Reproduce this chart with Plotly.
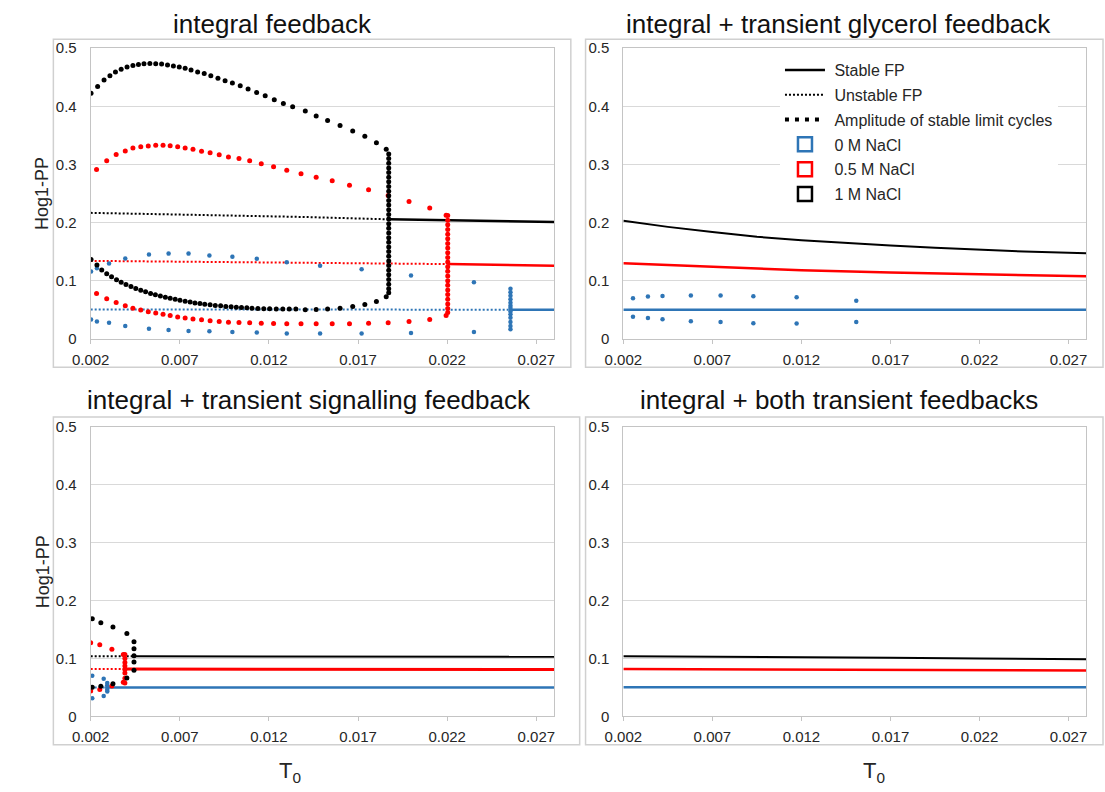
import plotly.graph_objects as go

FONT = "Liberation Sans, Arial, sans-serif"
BLUE = "#2e75b6"
RED = "#ff0000"
BLACK = "#000000"
GRID = "#d9d9d9"
FRAME = "#c4c4c4"
TEXT = "#262626"

FIG_W, FIG_H = 1105, 792

# ---------------------------------------------------------------- axes / text
X_RANGE = [0.002, 0.028]
Y_RANGE = [0.0, 0.5]
X_TICKS = [0.002, 0.007, 0.012, 0.017, 0.022, 0.027]
X_TICK_TEXT = ["0.002", "0.007", "0.012", "0.017", "0.022", "0.027"]
Y_TICKS = [0.0, 0.1, 0.2, 0.3, 0.4, 0.5]
Y_TICK_TEXT = ["0", "0.1", "0.2", "0.3", "0.4", "0.5"]

PANEL_TITLES = [
    "integral feedback",
    "integral + transient glycerol feedback",
    "integral + transient signalling feedback",
    "integral + both transient feedbacks",
]
Y_TITLE = "Hog1-PP"
X_TITLE = "T<sub>0</sub>"
LEGEND_LABELS = ["Stable FP", "Unstable FP", "Amplitude of stable limit cycles",
                 "0 M NaCl", "0.5 M NaCl", "1 M NaCl"]

# ------------------------------------------------- panel 1: integral feedback
IF_K_STABLE_X = [0.01872, 0.022, 0.025, 0.028]
IF_K_STABLE_Y = [0.2055, 0.2035, 0.2022, 0.2008]
IF_K_UNSTABLE_X = [0.002, 0.006, 0.010, 0.014, 0.01872]
IF_K_UNSTABLE_Y = [0.2166, 0.2145, 0.2120, 0.2095, 0.2055]
IF_K_LC_UP_X = [0.00202, 0.00239, 0.00275, 0.00308, 0.00339, 0.00371, 0.00404, 0.00437,
                0.00468, 0.00499, 0.00532, 0.00565, 0.00598, 0.00631, 0.00664, 0.00697,
                0.00730, 0.00763, 0.00800, 0.00837, 0.00874, 0.00914, 0.00954, 0.00995,
                0.01039, 0.01083, 0.01131, 0.01179, 0.01230, 0.01281, 0.01333, 0.01404,
                0.01465, 0.01529, 0.01599, 0.01670, 0.01738, 0.01803, 0.01858]
IF_K_LC_UP_Y = [0.4226, 0.4338, 0.4450, 0.4523, 0.4590, 0.4635, 0.4675, 0.4703,
                0.4720, 0.4730, 0.4736, 0.4730, 0.4726, 0.4709, 0.4692, 0.4675,
                0.4652, 0.4624, 0.4590, 0.4562, 0.4523, 0.4484, 0.4440, 0.4400,
                0.4355, 0.4298, 0.4237, 0.4180, 0.4113, 0.4046, 0.3990, 0.3917,
                0.3833, 0.3754, 0.3670, 0.3574, 0.3485, 0.3372, 0.3261]
IF_K_LC_LO_X = [0.00202, 0.00235, 0.00262, 0.00290, 0.00317, 0.00345, 0.00371, 0.00398,
                0.00426, 0.00453, 0.00481, 0.00508, 0.00536, 0.00563, 0.00591, 0.00619,
                0.00646, 0.00674, 0.00701, 0.00730, 0.00758, 0.00785, 0.00813, 0.00840,
                0.00870, 0.00899, 0.00929, 0.00958, 0.00988, 0.01017, 0.01046, 0.01076,
                0.01105, 0.01138, 0.01171, 0.01204, 0.01241, 0.01278, 0.01314, 0.01351,
                0.01404, 0.01465, 0.01529, 0.01599, 0.01670, 0.01738, 0.01803, 0.01858]
IF_K_LC_LO_Y = [0.1364, 0.1268, 0.1184, 0.1117, 0.1066, 0.1016, 0.0971, 0.0932,
                0.0898, 0.0864, 0.0836, 0.0808, 0.0780, 0.0758, 0.0735, 0.0713,
                0.0696, 0.0679, 0.0662, 0.0645, 0.0634, 0.0617, 0.0606, 0.0595,
                0.0584, 0.0572, 0.0567, 0.0556, 0.0550, 0.0544, 0.0539, 0.0533,
                0.0527, 0.0522, 0.0516, 0.0516, 0.0510, 0.0510, 0.0510, 0.0510,
                0.0500, 0.0505, 0.0510, 0.0527, 0.0555, 0.0590, 0.0640, 0.0724]
IF_K_HOPF_X = 0.01872
IF_K_HOPF_Y = [0.318, 0.310, 0.302, 0.294, 0.286, 0.278, 0.270, 0.262, 0.254, 0.246,
               0.238, 0.230, 0.222, 0.214, 0.206, 0.198, 0.190, 0.182, 0.174, 0.166,
               0.158, 0.150, 0.142, 0.134, 0.126, 0.118, 0.110, 0.102, 0.094, 0.086,
               0.079]

IF_R_STABLE_X = [0.02203, 0.025, 0.028]
IF_R_STABLE_Y = [0.1285, 0.1270, 0.1257]
IF_R_UNSTABLE_X = [0.002, 0.007, 0.012, 0.017, 0.02203]
IF_R_UNSTABLE_Y = [0.1340, 0.1325, 0.1310, 0.1298, 0.1285]
IF_R_LC_X = [0.00233, 0.00290, 0.00343, 0.00394, 0.00437, 0.00481, 0.00523, 0.00565,
             0.00606, 0.00646, 0.00688, 0.00730, 0.00774, 0.00822, 0.00870, 0.00921,
             0.00973, 0.01032, 0.01092, 0.01157, 0.01226, 0.01300, 0.01380, 0.01465,
             0.01555, 0.01652, 0.01759, 0.01869, 0.01986, 0.02102, 0.02194]
IF_R_LC_UP_Y = [0.2912, 0.3064, 0.3170, 0.3232, 0.3283, 0.3305, 0.3316, 0.3328,
                0.3328, 0.3322, 0.3305, 0.3283, 0.3261, 0.3227, 0.3199, 0.3165,
                0.3126, 0.3103, 0.3064, 0.3013, 0.2960, 0.2900, 0.2840, 0.2780,
                0.2720, 0.2643, 0.2564, 0.2463, 0.2362, 0.2251, 0.2126]
IF_R_LC_LO_Y = [0.0780, 0.0690, 0.0623, 0.0567, 0.0527, 0.0493, 0.0466, 0.0443,
                0.0421, 0.0399, 0.0375, 0.0359, 0.0342, 0.0325, 0.0308, 0.0298,
                0.0286, 0.0281, 0.0274, 0.0269, 0.0264, 0.0258, 0.0258, 0.0258,
                0.0258, 0.0258, 0.0269, 0.0275, 0.0298, 0.0331, 0.0399]
IF_R_HOPF_X = 0.02203
IF_R_HOPF_Y = [0.212, 0.204, 0.196, 0.188, 0.180, 0.172, 0.164, 0.156, 0.148, 0.140,
               0.132, 0.124, 0.116, 0.108, 0.100, 0.092, 0.084, 0.076, 0.068, 0.060,
               0.052, 0.045]

IF_B_STABLE_X = [0.02555, 0.028]
IF_B_STABLE_Y = [0.0500, 0.0500]
IF_B_UNSTABLE_X = [0.002, 0.02555]
IF_B_UNSTABLE_Y = [0.0505, 0.0500]
IF_B_LC_X = [0.00202, 0.00235, 0.00303, 0.00394, 0.00527, 0.00637, 0.00749, 0.00866,
             0.00995, 0.01132, 0.01300, 0.01487, 0.01720, 0.01997, 0.02350]
IF_B_LC_UP_Y = [0.1156, 0.1212, 0.1296, 0.1380, 0.1448, 0.1465, 0.1465, 0.1431,
                0.1409, 0.1375, 0.1318, 0.1257, 0.1195, 0.1089, 0.0971]
IF_B_LC_LO_Y = [0.0331, 0.0298, 0.0275, 0.0219, 0.0174, 0.0152, 0.0135, 0.0130,
                0.0118, 0.0107, 0.0089, 0.0089, 0.0089, 0.0101, 0.0118]
IF_B_HOPF_X = 0.02555
IF_B_HOPF_Y = [0.0859, 0.0800, 0.0740, 0.0680, 0.0620, 0.0570, 0.0530, 0.0470,
               0.0420, 0.0360, 0.0290, 0.0220, 0.0165]

# ------------------------------- panel 2: integral + transient glycerol feedback
TG_K_X = [0.002, 0.0045, 0.007, 0.0095, 0.012, 0.0145, 0.017, 0.0195, 0.022, 0.0245, 0.028]
TG_K_Y = [0.203, 0.1925, 0.1835, 0.1755, 0.1695, 0.1645, 0.1605, 0.1565, 0.153, 0.150, 0.147]
TG_R_X = [0.002, 0.007, 0.012, 0.017, 0.022, 0.028]
TG_R_Y = [0.130, 0.1235, 0.118, 0.114, 0.1105, 0.1075]
TG_B_X = [0.002, 0.028]
TG_B_Y = [0.050, 0.050]
TG_B_LC_X = [0.00254, 0.00338, 0.00420, 0.00579, 0.00746, 0.00930, 0.01173, 0.01508]
TG_B_LC_UP_Y = [0.0698, 0.0726, 0.0737, 0.0743, 0.0743, 0.0732, 0.0715, 0.0654]
TG_B_LC_LO_Y = [0.0380, 0.0358, 0.0335, 0.0302, 0.0290, 0.0268, 0.0263, 0.0290]

# ----------------------------- panel 3: integral + transient signalling feedback
TS_K_STABLE_X = [0.00443, 0.015, 0.028]
TS_K_STABLE_Y = [0.104, 0.1035, 0.103]
TS_K_UNSTABLE_X = [0.002, 0.00443]
TS_K_UNSTABLE_Y = [0.104, 0.104]
TS_K_LC_X = [0.00209, 0.00257, 0.00325, 0.00403]
TS_K_LC_UP_Y = [0.1686, 0.1619, 0.1546, 0.1433]
TS_K_LC_LO_Y = [0.0506, 0.0523, 0.0563, 0.0664]
TS_K_HOPF_X = 0.00443
TS_K_HOPF_Y = [0.129, 0.117, 0.105, 0.094, 0.080]

TS_R_STABLE_X = [0.00392, 0.015, 0.028]
TS_R_STABLE_Y = [0.082, 0.0815, 0.081]
TS_R_UNSTABLE_X = [0.002, 0.00392]
TS_R_UNSTABLE_Y = [0.082, 0.082]
TS_R_LC_X = [0.00200, 0.00251, 0.00319, 0.00383]
TS_R_LC_UP_Y = [0.1271, 0.1238, 0.1159, 0.1069]
TS_R_LC_LO_Y = [0.0438, 0.0467, 0.0525, 0.0590]
TS_R_HOPF_X = 0.00392
TS_R_HOPF_Y = [0.107, 0.100, 0.093, 0.087, 0.081, 0.075, 0.066, 0.058]

TS_B_STABLE_X = [0.00293, 0.028]
TS_B_STABLE_Y = [0.050, 0.050]
TS_B_UNSTABLE_X = [0.002, 0.00293]
TS_B_UNSTABLE_Y = [0.050, 0.050]
TS_B_LC_X = [0.00209, 0.00273]
TS_B_LC_UP_Y = [0.0703, 0.0653]
TS_B_LC_LO_Y = [0.0315, 0.0354]
TS_B_HOPF_X = 0.00293
TS_B_HOPF_Y = [0.058, 0.054, 0.050, 0.046, 0.043]

# ---------------------------------- panel 4: integral + both transient feedbacks
TB_X = [0.002, 0.007, 0.012, 0.017, 0.022, 0.028]
TB_K_Y = [0.104, 0.1035, 0.1025, 0.1015, 0.100, 0.099]
TB_R_Y = [0.082, 0.0815, 0.081, 0.0805, 0.080, 0.0795]
TB_B_Y = [0.0505, 0.0505, 0.0505, 0.0505, 0.0505, 0.0505]

# ------------------------------------------------------------------ layout px
# plot areas in pixels: (left, right, top, bottom)
PLOT_PX = [(73, 545, 40, 337), (615.5, 1087, 40, 337),
           (73, 545, 427, 723), (615.5, 1087, 427, 723)]
# chart-area frames in pixels: (x0, y0, x1, y1)
FRAME_PX = [(35, 31, 562, 366), (577, 31, 1104, 366),
            (35, 417, 571, 752), (577, 417, 1104, 752)]
TITLE_PX = [(258, 15), (835, 15), (295, 400), (835, 400)]
XTITLE_PX = [(276, 780), (871, 780)]
YTITLE_X = 24
LEGEND_PX = (775, 45)


def px_x(v):
    return v / FIG_W


def px_y(v):
    return 1 - v / FIG_H


fig = go.Figure()

DOT = "2px,2px"


def line(ax, x, y, color, dash=None, width=2.5):
    fig.add_trace(go.Scatter(
        x=x, y=y, mode="lines", xaxis=f"x{ax}", yaxis=f"y{ax}",
        line=dict(color=color, width=width if dash is None else 2, dash=dash or "solid"),
        showlegend=False, hoverinfo="skip"))


def dots(ax, x, y, color, size=5):
    fig.add_trace(go.Scatter(
        x=x, y=y, mode="markers", xaxis=f"x{ax}", yaxis=f"y{ax}",
        marker=dict(color=color, size=size, line=dict(width=0)),
        showlegend=False, hoverinfo="skip"))


# panel 1
line("", IF_B_UNSTABLE_X, IF_B_UNSTABLE_Y, BLUE, DOT)
line("", IF_B_STABLE_X, IF_B_STABLE_Y, BLUE)
line("", IF_R_UNSTABLE_X, IF_R_UNSTABLE_Y, RED, DOT)
line("", IF_R_STABLE_X, IF_R_STABLE_Y, RED)
line("", IF_K_UNSTABLE_X, IF_K_UNSTABLE_Y, BLACK, DOT)
line("", IF_K_STABLE_X, IF_K_STABLE_Y, BLACK)
dots("", IF_B_LC_X + IF_B_LC_X + [IF_B_HOPF_X] * len(IF_B_HOPF_Y),
     IF_B_LC_UP_Y + IF_B_LC_LO_Y + IF_B_HOPF_Y, BLUE, 4.5)
dots("", IF_R_LC_X + IF_R_LC_X + [IF_R_HOPF_X] * len(IF_R_HOPF_Y),
     IF_R_LC_UP_Y + IF_R_LC_LO_Y + IF_R_HOPF_Y, RED, 5)
dots("", IF_K_LC_UP_X + IF_K_LC_LO_X + [IF_K_HOPF_X] * len(IF_K_HOPF_Y),
     IF_K_LC_UP_Y + IF_K_LC_LO_Y + IF_K_HOPF_Y, BLACK, 5)

# panel 2
line("2", TG_B_X, TG_B_Y, BLUE)
line("2", TG_R_X, TG_R_Y, RED)
line("2", TG_K_X, TG_K_Y, BLACK, width=2)
dots("2", TG_B_LC_X + TG_B_LC_X, TG_B_LC_UP_Y + TG_B_LC_LO_Y, BLUE, 4.5)

# panel 3
line("3", TS_B_UNSTABLE_X, TS_B_UNSTABLE_Y, BLUE, DOT)
line("3", TS_B_STABLE_X, TS_B_STABLE_Y, BLUE)
line("3", TS_R_UNSTABLE_X, TS_R_UNSTABLE_Y, RED, DOT)
line("3", TS_R_STABLE_X, TS_R_STABLE_Y, RED, width=3)
line("3", TS_K_UNSTABLE_X, TS_K_UNSTABLE_Y, BLACK, DOT)
line("3", TS_K_STABLE_X, TS_K_STABLE_Y, BLACK, width=2)
dots("3", TS_B_LC_X + TS_B_LC_X + [TS_B_HOPF_X] * len(TS_B_HOPF_Y),
     TS_B_LC_UP_Y + TS_B_LC_LO_Y + TS_B_HOPF_Y, BLUE, 4.5)
dots("3", TS_R_LC_X + TS_R_LC_X + [TS_R_HOPF_X] * len(TS_R_HOPF_Y),
     TS_R_LC_UP_Y + TS_R_LC_LO_Y + TS_R_HOPF_Y, RED, 5)
dots("3", TS_K_LC_X + TS_K_LC_X + [TS_K_HOPF_X] * len(TS_K_HOPF_Y),
     TS_K_LC_UP_Y + TS_K_LC_LO_Y + TS_K_HOPF_Y, BLACK, 5)

# panel 4
line("4", TB_X, TB_B_Y, BLUE)
line("4", TB_X, TB_R_Y, RED)
line("4", TB_X, TB_K_Y, BLACK, width=2)

# legend entries (shown inside panel 2)
legend_specs = [
    dict(mode="lines", line=dict(color=BLACK, width=2.5)),
    dict(mode="lines", line=dict(color=BLACK, width=2, dash=DOT)),
    dict(mode="lines", line=dict(color=BLACK, width=4, dash="4px,6px")),
    dict(mode="markers", marker=dict(symbol="square-open", size=14, color=BLUE, line=dict(width=2.5, color=BLUE))),
    dict(mode="markers", marker=dict(symbol="square-open", size=14, color=RED, line=dict(width=2.5, color=RED))),
    dict(mode="markers", marker=dict(symbol="square-open", size=14, color=BLACK, line=dict(width=2.5, color=BLACK))),
]
for i, (label, spec) in enumerate(zip(LEGEND_LABELS, legend_specs)):
    fig.add_trace(go.Scatter(x=[None], y=[None], name="\u00a0" + label, xaxis="x2", yaxis="y2",
                             legendgroup=f"g{i}", showlegend=True, **spec))

# axes
layout_axes = {}
for i, (l, r, t, b) in enumerate(PLOT_PX):
    suffix = "" if i == 0 else str(i + 1)
    layout_axes[f"xaxis{suffix}"] = dict(
        domain=[px_x(l), px_x(r)], range=X_RANGE, anchor=f"y{suffix}",
        tickmode="array", tickvals=X_TICKS, ticktext=X_TICK_TEXT,
        showgrid=False, zeroline=False, showline=True, linecolor=FRAME, linewidth=1,
        mirror=True, ticks="outside", ticklen=4, tickcolor=FRAME,
        tickfont=dict(family=FONT, size=15, color=TEXT), ticklabelstandoff=3)
    layout_axes[f"yaxis{suffix}"] = dict(
        domain=[px_y(b), px_y(t)], range=Y_RANGE, anchor=f"x{suffix}",
        tickmode="array", tickvals=Y_TICKS, ticktext=Y_TICK_TEXT,
        showgrid=True, gridcolor=GRID, gridwidth=1, zeroline=False,
        showline=True, linecolor=FRAME, linewidth=1, mirror=True, ticks="",
        tickfont=dict(family=FONT, size=15, color=TEXT), ticklabelstandoff=10)

shapes = [dict(type="rect", xref="paper", yref="paper",
               x0=px_x(x0), x1=px_x(x1), y0=px_y(y1), y1=px_y(y0),
               line=dict(color="#d0d0d0", width=1.5), fillcolor="rgba(0,0,0,0)",
               layer="below")
          for (x0, y0, x1, y1) in FRAME_PX]

annotations = []
for text, (cx, cy) in zip(PANEL_TITLES, TITLE_PX):
    annotations.append(dict(text=text, xref="paper", yref="paper",
                            x=px_x(cx), y=px_y(cy), xanchor="center", yanchor="middle",
                            showarrow=False, font=dict(family=FONT, size=26, color="#111111")))
for (l, r, t, b) in (PLOT_PX[0], PLOT_PX[2]):
    annotations.append(dict(text=Y_TITLE, xref="paper", yref="paper",
                            x=px_x(YTITLE_X), y=px_y((t + b) / 2), xanchor="center",
                            yanchor="middle", textangle=-90, showarrow=False,
                            font=dict(family=FONT, size=18, color=TEXT)))
for (cx, cy) in XTITLE_PX:
    annotations.append(dict(text=X_TITLE, xref="paper", yref="paper",
                            x=px_x(cx), y=px_y(cy), xanchor="center", yanchor="middle",
                            showarrow=False, font=dict(family=FONT, size=22, color=TEXT)))

fig.update_layout(
    width=FIG_W, height=FIG_H,
    margin=dict(l=0, r=0, t=0, b=0),
    paper_bgcolor="white", plot_bgcolor="white",
    font=dict(family=FONT, color=TEXT),
    showlegend=True,
    legend=dict(x=px_x(LEGEND_PX[0]), y=px_y(LEGEND_PX[1]), xanchor="left", yanchor="top",
                bgcolor="rgba(255,255,255,1)", borderwidth=0,
                font=dict(family=FONT, size=16, color=TEXT),
                tracegroupgap=1, traceorder="grouped", itemclick=False, itemwidth=40),
    shapes=shapes, annotations=annotations,
    **layout_axes,
)

fig.write_html("out.html")
